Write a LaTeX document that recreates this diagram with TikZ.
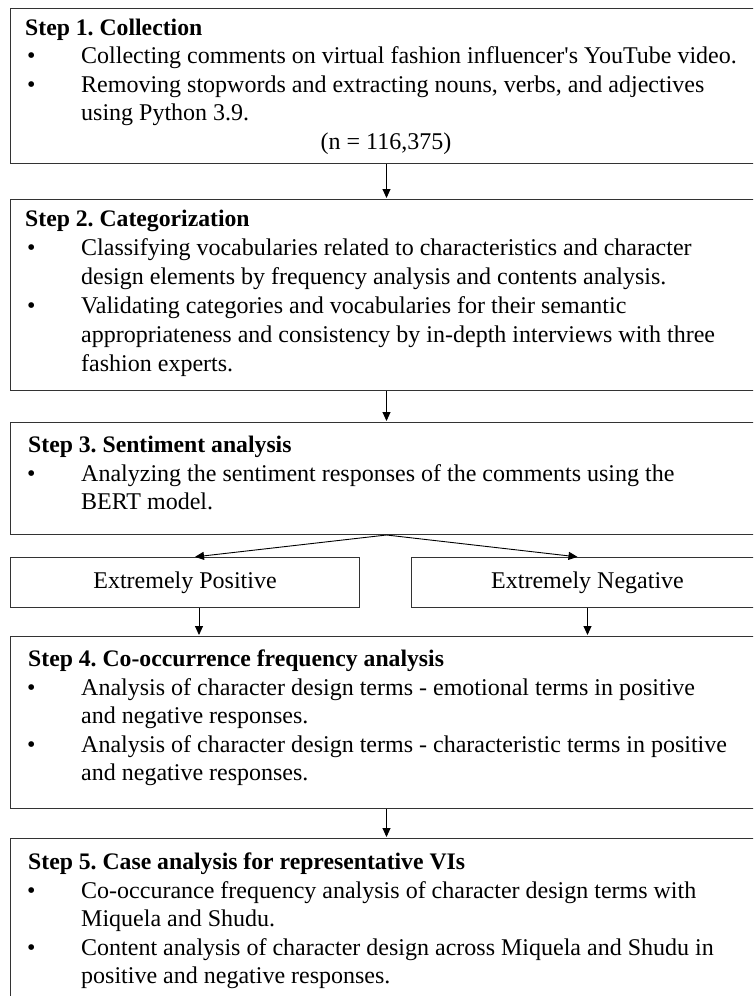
\documentclass[tikz,border=0pt]{standalone}
\usepackage{fontspec}
\setmainfont{Liberation Serif}[Ligatures=TeXOff]
\frenchspacing
\usetikzlibrary{positioning, arrows.meta, calc}

\begin{document}
\begin{tikzpicture}[
                x=1pt, y=-1pt,
                >={Triangle[length=9pt, width=8pt]},
                box/.style={draw=black!80, line width=1pt, anchor=north west, inner sep=0pt, font=\fontsize{24}{28}\selectfont},
                title/.style={anchor=base west, inner sep=0pt, font=\bfseries\fontsize{23.7}{28}\selectfont},
                line/.style={anchor=base west, inner sep=0pt, font=\fontsize{24}{28}\selectfont},
                flow/.style={->, draw=black, line width=0.9pt, shorten >=1pt},
            ]
                \useasboundingbox (0,0) rectangle (753,996);
                \clip (0,0) rectangle (753,996);

                % Draw the step boxes
                \node[box, minimum width=752pt, minimum height=155pt] (box1) at (10,8) {};
                \node[box, minimum width=752pt, minimum height=191pt] (box2) at (10,199) {};
                \node[box, minimum width=752pt, minimum height=112pt] (box3) at (10,422) {};
                \node[box, minimum width=349pt, minimum height=50pt] (pos) at (10,557) {Extremely Positive};
                \node[box, minimum width=352pt, minimum height=50pt] (neg) at (411,557) {Extremely Negative};
                \node[box, minimum width=752pt, minimum height=172pt] (box4) at (10,636) {};
                \node[box, minimum width=752pt, minimum height=200pt] (box5) at (10,838) {};

                % Step titles
                \node[title] (s1) at (25,35) {Step 1. Collection};
                \node[title] (s2) at (25,226) {Step 2. Categorization};
                \node[title] (s3) at (28,452) {Step 3. Sentiment analysis};
                \node[title] (s4) at (28,666) {Step 4. Co-occurrence frequency analysis};
                \node[title] (s5) at (28,869) {Step 5. Case analysis for representative VIs};

                % Bullets
                \foreach \y [count=\i] in {63.5,92,255,313,481,695,752,898,955}
                    \node[line] (b-\i) at (27,\y) {\textbullet};

                % Body lines
                \foreach \y/\t [count=\i] in {
                    63.5/{Collecting comments on virtual fashion influencer's YouTube video.},
                    92/{Removing stopwords and extracting nouns, verbs, and adjectives},
                    120.5/{using Python 3.9.},
                    255/{Classifying vocabularies related to characteristics and character},
                    284/{design elements by frequency analysis and contents analysis.},
                    313/{Validating categories and vocabularies for their semantic},
                    342/{appropriateness and consistency by in-depth interviews with three},
                    371/{fashion experts.},
                    481/{Analyzing the sentiment responses of the comments using the},
                    509/{BERT model.},
                    695/{Analysis of character design terms - emotional terms in positive},
                    723/{and negative responses.},
                    752/{Analysis of character design terms - characteristic terms in positive},
                    780/{and negative responses.},
                    898/{Co-occurance frequency analysis of character design terms with},
                    926/{Miquela and Shudu.},
                    955/{Content analysis of character design across Miquela and Shudu in},
                    983/{positive and negative responses.}}
                    \node[line] (l-\i) at (81,\y) {\t};

                \node[line, anchor=base] (n1) at (386,149) {(n = 116,375)};

                % Connect the boxes
                \draw[flow] (box1.south) -- (box2.north);
                \draw[flow] (box2.south) -- (box3.north);
                \draw[flow] (box3.south) -- ([xshift=9pt]pos.north);
                \draw[flow] (box3.south) -- ([xshift=-9pt]neg.north);
                \draw[flow] ([xshift=14pt]pos.south) -- ([xshift=14pt]pos.south |- box4.north);
                \draw[flow] (neg.south) -- (neg.south |- box4.north);
                \draw[flow] (box4.south) -- (box5.north);
            \end{tikzpicture}
\end{document}
